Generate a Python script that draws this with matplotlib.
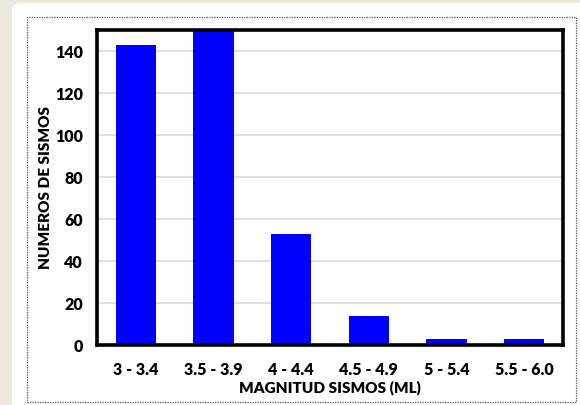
import matplotlib.pyplot as plt
from matplotlib.patches import FancyBboxPatch, Rectangle

# magnitude ranges and number of earthquakes
categories = ["3 - 3.4", "3.5 - 3.9", "4 - 4.4", "4.5 - 4.9", "5 - 5.4", "5.5 - 6.0"]
counts = [143, 150, 53, 14, 3, 3]
yticks = [0, 20, 40, 60, 80, 100, 120, 140]

W, H = 580, 405
plt.rcParams["font.family"] = ["Lato", "DejaVu Sans"]
plt.rcParams["font.weight"] = "bold"

fig = plt.figure(figsize=(W / 100, H / 100), dpi=100)
fig.patch.set_facecolor("#ede7dd")

# white card behind the chart
card = FancyBboxPatch((12 / W, -0.05), 1.0, 1.05 - 3 / H,
                      boxstyle="round,pad=0,rounding_size=0.015",
                      transform=fig.transFigure, facecolor="white",
                      edgecolor="none", zorder=-2)
fig.patches.append(card)
# dotted chart-area border
border = Rectangle((27 / W, 1 - 402 / H), (576 - 27) / W, (402 - 17) / H,
                   transform=fig.transFigure, facecolor="none",
                   edgecolor="#555555", lw=0.9, ls=(0, (1, 1)), zorder=-1)
fig.patches.append(border)

ax = fig.add_axes([97 / W, 1 - 345 / H, (563 - 97) / W, (345 - 30) / H])
ax.set_zorder(2)
ax.set_facecolor("white")
x = list(range(len(categories)))
ax.bar(x, counts, width=0.52, color="#0000ff", zorder=3)

ax.set_xlim(-0.5, len(categories) - 0.5)
ax.set_ylim(0, 150)
ax.set_yticks(yticks)
ax.set_xticks(x)
ax.set_xticklabels(categories)
ax.tick_params(length=0, labelsize=11.5)
ax.tick_params(axis="x", pad=12)
ax.tick_params(axis="y", pad=10)
for lab in ax.get_xticklabels() + ax.get_yticklabels():
    lab.set_fontweight("heavy")

ax.yaxis.grid(True, color="#e0e0e0", lw=1.5, zorder=0)
ax.set_axisbelow(True)
for side in ["left", "right", "top", "bottom"]:
    ax.spines[side].set_linewidth(2.6)
    ax.spines[side].set_color("black")
    ax.spines[side].set_zorder(4)

ax.set_xlabel("MAGNITUD SISMOS (ML)", fontsize=11, fontweight="heavy", labelpad=2)
ax.set_ylabel("NUMEROS DE SISMOS", fontsize=11, fontweight="heavy", labelpad=2)

fig.savefig("out.png", dpi=100, facecolor=fig.get_facecolor())
